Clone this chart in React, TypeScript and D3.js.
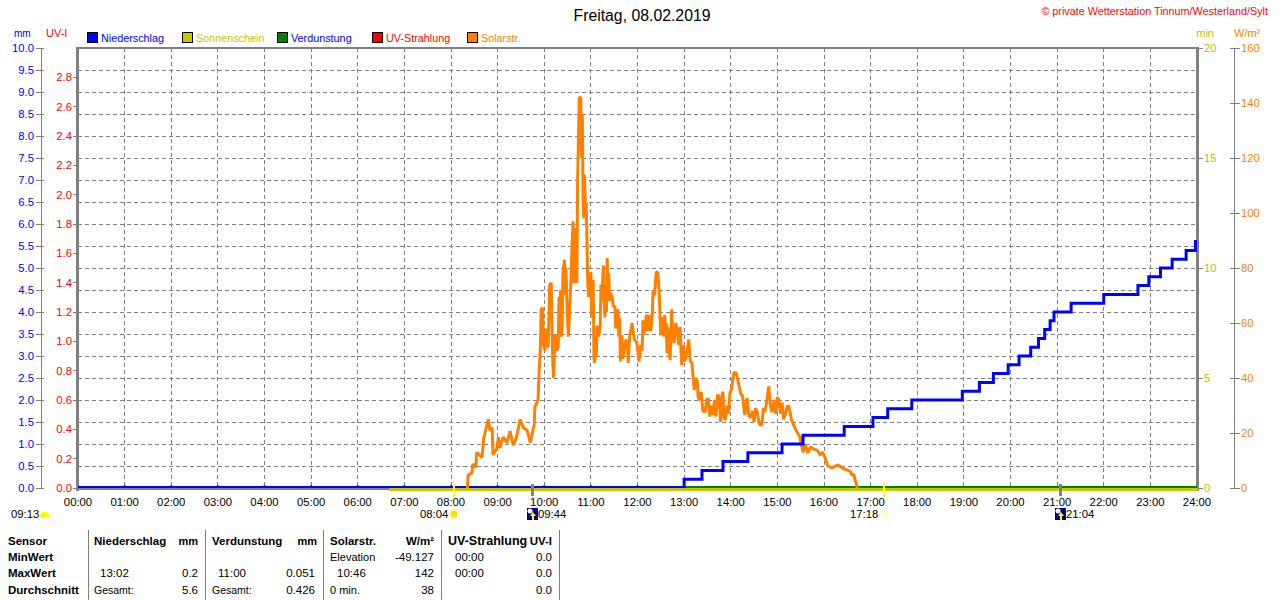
import React from "react";
import * as d3 from "d3";

const hourLabels = ["00:00","01:00","02:00","03:00","04:00","05:00","06:00","07:00","08:00","09:00","10:00","11:00","12:00","13:00","14:00","15:00","16:00","17:00","18:00","19:00","20:00","21:00","22:00","23:00","24:00"];
const mmTicks = [0,0.5,1,1.5,2,2.5,3,3.5,4,4.5,5,5.5,6,6.5,7,7.5,8,8.5,9,9.5,10];
const uvTicks = [0,0.2,0.4,0.6,0.8,1,1.2,1.4,1.6,1.8,2,2.2,2.4,2.6,2.8];
const minTicks = [0,5,10,15,20];
const wattTicks = [0,20,40,60,80,100,120,140,160];

const rainMinutes = [780,803,830,862,906,933,986,1023,1042,1073,1138,1160,1178,1197,1211,1226,1236,1244,1251,1256,1278,1320,1364,1378,1393,1408,1426,1438,1440];
const rainValues = [0.2,0.4,0.6,0.8,1.0,1.2,1.4,1.6,1.8,2.0,2.2,2.4,2.6,2.8,3.0,3.2,3.4,3.6,3.8,4.0,4.2,4.4,4.6,4.8,5.0,5.2,5.4,5.6,5.6];

const solarMinutes = [501,502,507,508,512,513,520,522,528,530,533,534,539,541,543,547,552,556,560,564,569,573,578,582,587,588,592,593,595,596,598,599,601,603,605,606,607,609,610,611,612,613,614,616,618,619,620,621,622,623,624,626,627,628,629,630,631,632,634,636,637,638,639,641,642,643,644,645,647,648,649,650,651,652,653,654,655,656,657,659,660,661,662,663,664,665,666,667,668,670,672,673,674,676,677,678,679,680,681,682,683,684,685,687,689,691,692,694,695,696,697,698,699,700,701,703,705,707,708,710,712,713,715,716,719,722,724,726,727,728,730,731,732,733,734,735,736,737,739,740,742,744,746,748,749,750,751,753,754,755,756,757,758,759,760,762,764,765,767,769,771,773,775,776,777,779,781,784,786,788,790,793,795,797,798,800,802,804,807,809,811,813,815,817,819,821,823,825,827,829,830,831,833,835,837,839,841,844,847,850,853,855,858,861,863,865,868,870,872,874,877,880,882,884,886,889,891,893,896,898,900,902,904,906,908,910,913,915,918,920,924,929,933,936,939,943,947,951,955,958,961,965,970,978,985,990,994,996,998,1000,1003];
const solarValues = [0,4.7,5.5,8.7,7.6,13,11,18,25,21,22,12,14.5,18.5,14.5,18.5,16.4,20.7,15.6,18.2,25,22,21,16.4,23,29.5,32,40,51,65,65.5,52,50,58,51,62,74,74.5,60,45.5,40,48,55.6,50,51,69.5,60,72,55,58,78,83,70,80,69,62,55,60,73,90,97,74.5,88,94.5,74.5,113,126.5,142,142,120,135.6,103.6,98,114,100,103.6,90,74.5,69.5,74.5,78.5,62,70,75.6,47,45.5,52,48,59,55,59,74,68,81,69.5,62,70,64,83.6,71,78,68,71,70,66,66,58,62,65,55,62,46,50,55.6,47,50,54,52.7,45.5,55.6,58,60,56,54,53,46,52,50,61,56,58,62,63,57,62,58,63,57,62,72,70,78.5,78.5,71,62,55.6,60,62,55,63,56,60,49,58.5,52,46.5,65,56,52.7,60,58,52,58.5,50,44.7,52,46,50,54,46,45.5,35.6,40,38.5,33,32,35,28,27.6,32,32.7,26,30,26.5,32,26,34,33,24,34,35,26,24.7,30,27,34.5,36,42,41.8,38,34,33.8,26.5,32.7,27,25.5,28,24,29,27.6,23,23,29,27.6,31,37,30,27.6,32,27,33,32,27,31,25,26.5,30,29.5,25,23.6,21,18.5,13,16,12.7,15,14,13.8,12,13,11.3,8,7.3,8.4,7,6.5,6,4.7,5,3,0];

const sunshineStart = 400;
const legendNames = ["Niederschlag","Sonnenschein","Verdunstung","UV-Strahlung","Solarstr."];
const legendFills = ["#0000ff","#c8c800","#008000","#ff0000","#ff8000"];
const legendInks = ["#0000ff","#c8c800","#0000ff","#ff0000","#ff8000"];

const headerRow = ["Sensor","Niederschlag","mm","Verdunstung","mm","Solarstr.","W/m²","UV-Strahlung","UV-I"];
const rowNames = ["MinWert","MaxWert","Durchschnitt"];

const L = 78, R = 1197, T = 48, B = 488;
const FONT = "'Liberation Sans', Arial, sans-serif";

const x = d3.scaleLinear().domain([0, 1440]).range([L, R]);
const yMm = d3.scaleLinear().domain([0, 10]).range([B, T]);
const yUv = d3.scaleLinear().domain([0, 3]).range([B, T]);
const yMin = d3.scaleLinear().domain([0, 20]).range([B, T]);
const yW = d3.scaleLinear().domain([0, 160]).range([B, T]);

const GRAY = "#808080";
const AX = 11.3;

type TP = { x: number; y: number; c?: string; a?: "start" | "end" | "middle"; s?: number; b?: boolean; children: React.ReactNode };
function T1({ x, y, c = "#000", a = "start", s = AX, b = false, children }: TP) {
  return (
    <text x={x} y={y} fill={c} textAnchor={a} fontSize={s} fontWeight={b ? 700 : 400} dominantBaseline="central" fontFamily={FONT}>
      {children}
    </text>
  );
}

function MoonIcon({ cx }: { cx: number }) {
  return (
    <g>
      <rect x={cx - 5} y={508} width={11} height={12} fill="#000080" />
      <circle cx={cx - 2} cy={511} r={2.5} fill="#fff" />
      <path d={`M${cx + 1} 520V516`} stroke="#ffff00" strokeWidth={2} fill="none" />
      <path d={`M${cx + 1} 512l-3 4h6z`} fill="#ffff00" />
    </g>
  );
}

export default function App() {
  const solarLine = d3.line<number>().x((_, i) => x(solarMinutes[i])).y((d) => yW(d));
  const rainLine = d3.line<number>().x((_, i) => x(rainMinutes[i])).y((d) => yMm(d)).curve(d3.curveStepAfter);
  const rainStart = rainMinutes[0];
  const rainPath = rainLine(rainValues) || "";
  const sunRays = d3.range(0, 360, 45);

  const colsV = [88, 205, 323, 441, 559];
  const rowYs = [541, 557, 573, 590];

  return (
    <svg width={1280} height={600} style={{ position: "absolute", left: 0, top: 0, background: "#fff" }}>
      {/* grid */}
      <g stroke={GRAY} strokeDasharray="4 3" shapeRendering="crispEdges">
        {mmTicks.slice(1, -1).map((t) => <line key={t} x1={L} x2={R} y1={yMm(t)} y2={yMm(t)} />)}
        {hourLabels.slice(1, -1).map((h, i) => <line key={h} x1={x((i + 1) * 60)} x2={x((i + 1) * 60)} y1={T} y2={B} />)}
      </g>
      {/* spines */}
      <g fill={GRAY} shapeRendering="crispEdges">
        <rect x={L - 2} y={T - 1} width={R - L + 3} height={2} />
        <rect x={L - 2} y={T - 1} width={3} height={B - T + 4} />
        <rect x={R - 1} y={T - 1} width={3} height={B - T + 4} />
        <rect x={L - 2} y={B} width={R - L + 3} height={2} />
        <rect x={41} y={T} width={1} height={B - T} />
        <rect x={1234} y={T} width={1} height={B - T} />
      </g>
      {/* left axes */}
      {mmTicks.map((t) => (
        <g key={t}>
          <line x1={36} x2={44} y1={yMm(t)} y2={yMm(t)} stroke={GRAY} shapeRendering="crispEdges" />
          <T1 x={34} y={yMm(t)} c="#0000ff" a="end">{t.toFixed(1)}</T1>
        </g>
      ))}
      {uvTicks.map((t) => (
        <g key={t}>
          <line x1={73} x2={77} y1={yUv(t)} y2={yUv(t)} stroke={GRAY} shapeRendering="crispEdges" />
          <T1 x={72} y={yUv(t)} c="#ff0000" a="end">{t.toFixed(1)}</T1>
        </g>
      ))}
      {/* right axes */}
      {minTicks.map((t) => (
        <g key={t}>
          <line x1={R} x2={1203} y1={yMin(t)} y2={yMin(t)} stroke={GRAY} shapeRendering="crispEdges" />
          <T1 x={1204} y={yMin(t)} c="#c0c000">{t}</T1>
        </g>
      ))}
      {wattTicks.map((t) => (
        <g key={t}>
          <line x1={1230} x2={1240} y1={yW(t)} y2={yW(t)} stroke={GRAY} shapeRendering="crispEdges" />
          <T1 x={1241} y={yW(t)} c="#ff8000">{t}</T1>
        </g>
      ))}
      {/* x labels */}
      {hourLabels.map((h, i) => (
        <T1 key={h} x={x(i * 60)} y={502} a="middle">{h}</T1>
      ))}
      {/* baseline series */}
      <rect x={x(sunshineStart)} y={488} width={R - x(sunshineStart) + 1} height={3} fill="#c8c800" shapeRendering="crispEdges" />
      <rect x={L} y={486} width={R - L} height={2} fill="#008000" shapeRendering="crispEdges" />
      <rect x={L} y={486} width={x(rainStart) - L} height={2} fill="#0000ff" shapeRendering="crispEdges" />
      {hourLabels.slice(1, 13).map((h, i) => (
        <rect key={h} x={x((i + 1) * 60) - 1} y={485} width={2} height={1} fill="#008000" />
      ))}
      {/* solar */}
      <path d={solarLine(solarValues) || ""} fill="none" stroke="#ff8000" strokeWidth={3} strokeLinejoin="bevel" />
      {/* rain */}
      <path d={`M${x(rainStart)} ${yMm(0)}${rainPath.replace(/^M/, "L")}`} fill="none" stroke="#0000ff" strokeWidth={3} strokeLinejoin="miter" />
      {/* event ticks */}
      <rect x={453} y={484} width={2} height={13} fill="#ffff00" />
      <rect x={883} y={484} width={2} height={13} fill="#ffff00" />
      <rect x={531} y={484} width={3} height={12} fill={GRAY} />
      <rect x={1059} y={484} width={3} height={12} fill={GRAY} />
      {/* event labels */}
      <T1 x={11} y={514}>09:13</T1>
      <path d="M40 517a4.5 5 0 0 1 9 0z" fill="#ffff00" stroke="#ffff00" />
      <T1 x={420} y={514}>08:04</T1>
      <circle cx={454} cy={514} r={3.5} fill="#ffe000" />
      {sunRays.map((a) => (
        <line key={a} x1={454 + 4 * Math.cos(a * Math.PI / 180)} y1={514 + 4 * Math.sin(a * Math.PI / 180)} x2={454 + 6 * Math.cos(a * Math.PI / 180)} y2={514 + 6 * Math.sin(a * Math.PI / 180)} stroke="#fff080" strokeWidth={1.5} />
      ))}
      <MoonIcon cx={532} />
      <T1 x={538} y={514}>09:44</T1>
      <T1 x={850} y={514}>17:18</T1>
      <rect x={881.5} y={511.5} width={5} height={5} rx={1.5} fill="none" stroke="#ffff80" />
      <MoonIcon cx={1060} />
      <T1 x={1066} y={514}>21:04</T1>
      {/* titles */}
      <T1 x={642} y={15} a="middle" s={15.8}>Freitag, 08.02.2019</T1>
      <T1 x={1268} y={11} a="end" s={10.8} c="#ff0000">© private Wetterstation Tinnum/Westerland/Sylt</T1>
      <T1 x={14} y={33} c="#0000ff" s={10}>mm</T1>
      <T1 x={46} y={33} c="#ff0000" s={11}>UV-I</T1>
      <T1 x={1214} y={33} c="#c0c000" s={11} a="end">min</T1>
      <T1 x={1234} y={33} c="#ff8000" s={11}>W/m²</T1>
      {/* legend */}
      {legendNames.map((n, i) => (
        <g key={n}>
          <rect x={87.5 + i * 95} y={32.5} width={10} height={10} fill={legendFills[i]} stroke="#000" shapeRendering="crispEdges" />
          <T1 x={101 + i * 95} y={37.5} c={legendInks[i]} s={10.8}>{n}</T1>
        </g>
      ))}
      {/* table */}
      {colsV.map((c) => <line key={c} x1={c} x2={c} y1={530} y2={600} stroke={GRAY} shapeRendering="crispEdges" />)}
      <T1 x={8} y={rowYs[0]} b s={11.5}>{headerRow[0]}</T1>
      <T1 x={94} y={rowYs[0]} b s={11.5}>{headerRow[1]}</T1>
      <T1 x={198} y={rowYs[0]} b s={11} a="end">{headerRow[2]}</T1>
      <T1 x={212} y={rowYs[0]} b s={11.5}>{headerRow[3]}</T1>
      <T1 x={317} y={rowYs[0]} b s={11} a="end">{headerRow[4]}</T1>
      <T1 x={330} y={rowYs[0]} b s={11.5}>{headerRow[5]}</T1>
      <T1 x={434} y={rowYs[0]} b s={11.5} a="end">{headerRow[6]}</T1>
      <T1 x={448} y={rowYs[0]} b s={12.5}>{headerRow[7]}</T1>
      <T1 x={552} y={rowYs[0]} b s={11.5} a="end">{headerRow[8]}</T1>
      {rowNames.map((n, i) => <T1 key={n} x={8} y={rowYs[i + 1]} b s={11.5}>{n}</T1>)}
      <T1 x={330} y={rowYs[1]} s={11}>Elevation</T1>
      <T1 x={434} y={rowYs[1]} a="end" s={11.5}>-49.127</T1>
      <T1 x={455} y={rowYs[1]} s={11.5}>00:00</T1>
      <T1 x={552} y={rowYs[1]} a="end" s={11.5}>0.0</T1>
      <T1 x={100} y={rowYs[2]} s={11.5}>13:02</T1>
      <T1 x={198} y={rowYs[2]} a="end" s={11.5}>0.2</T1>
      <T1 x={218} y={rowYs[2]} s={11.5}>11:00</T1>
      <T1 x={315} y={rowYs[2]} a="end" s={11.5}>0.051</T1>
      <T1 x={337} y={rowYs[2]} s={11.5}>10:46</T1>
      <T1 x={434} y={rowYs[2]} a="end" s={11.5}>142</T1>
      <T1 x={455} y={rowYs[2]} s={11.5}>00:00</T1>
      <T1 x={552} y={rowYs[2]} a="end" s={11.5}>0.0</T1>
      <T1 x={94} y={rowYs[3]} s={10.5}>Gesamt:</T1>
      <T1 x={198} y={rowYs[3]} a="end" s={11.5}>5.6</T1>
      <T1 x={212} y={rowYs[3]} s={10.5}>Gesamt:</T1>
      <T1 x={315} y={rowYs[3]} a="end" s={11.5}>0.426</T1>
      <T1 x={330} y={rowYs[3]} s={11}>0 min.</T1>
      <T1 x={434} y={rowYs[3]} a="end" s={11.5}>38</T1>
      <T1 x={552} y={rowYs[3]} a="end" s={11.5}>0.0</T1>
    </svg>
  );
}
